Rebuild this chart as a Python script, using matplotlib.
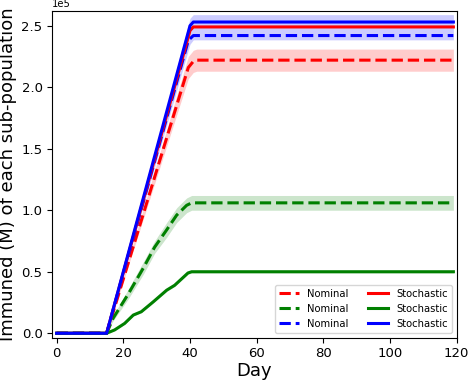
import matplotlib
matplotlib.use("Agg")
import matplotlib.pyplot as plt
import numpy as np

# Red sub-population
red_nom_days = [0, 15, 39.5, 41, 42, 119]
red_nom_vals = [0, 0, 2.16e5, 2.21e5, 2.22e5, 2.22e5]
red_band_days = [0, 15, 39.5, 41, 42, 119]
red_band_low = [0, 0, 2.07e5, 2.12e5, 2.13e5, 2.13e5]
red_band_high = [0, 0, 2.25e5, 2.30e5, 2.31e5, 2.31e5]
red_sto_days = [0, 15, 40, 41, 119]
red_sto_vals = [0, 0, 2.46e5, 2.49e5, 2.49e5]

# Green sub-population
green_nom_days = [0, 15, 16.9, 21.5, 26, 29.4, 33, 36, 39, 40.5, 119]
green_nom_vals = [0, 0, 0.12e5, 0.32e5, 0.53e5, 0.70e5, 0.84e5, 0.96e5, 1.04e5, 1.06e5, 1.06e5]
green_nom_band = [0, 0, 0.02e5, 0.04e5, 0.05e5, 0.05e5, 0.06e5, 0.06e5, 0.06e5, 0.06e5, 0.06e5]
green_sto_days = [0, 15, 17.4, 20.4, 23, 25.4, 29, 33, 35.4, 39.4, 40.5, 119]
green_sto_vals = [0, 0, 0.027e5, 0.08e5, 0.148e5, 0.175e5, 0.256e5, 0.35e5, 0.39e5, 0.49e5, 0.50e5, 0.50e5]
green_sto_band = [0, 0, 0.005e5, 0.007e5, 0.008e5, 0.008e5, 0.01e5, 0.01e5, 0.01e5, 0.01e5, 0.01e5, 0.01e5]

# Blue sub-population
blue_nom_days = [0, 15, 39.5, 41, 119]
blue_nom_vals = [0, 0, 2.38e5, 2.42e5, 2.42e5]
blue_sto_days = [0, 15, 40, 41, 119]
blue_sto_vals = [0, 0, 2.50e5, 2.53e5, 2.53e5]
blue_band_days = [0, 15, 40, 41, 119]
blue_band_low = [0, 0, 2.35e5, 2.385e5, 2.385e5]
blue_band_high = [0, 0, 2.56e5, 2.59e5, 2.59e5]

x_ticks = [0, 20, 40, 60, 80, 100, 120]

fig = plt.figure(figsize=(4.69, 3.81), dpi=100)
ax = fig.add_axes([0.1115, 0.1137, 0.8623, 0.8566])

lw = 2.2
# bands
ax.fill_between(red_band_days, red_band_low, red_band_high, color="red", alpha=0.2, linewidth=0)
gn = np.array(green_nom_vals); gnb = np.array(green_nom_band)
ax.fill_between(green_nom_days, gn - gnb, gn + gnb, color="green", alpha=0.2, linewidth=0)
gs = np.array(green_sto_vals); gsb = np.array(green_sto_band)
ax.fill_between(green_sto_days, gs - gsb, gs + gsb, color="green", alpha=0.2, linewidth=0)
ax.fill_between(blue_band_days, blue_band_low, blue_band_high, color="blue", alpha=0.2, linewidth=0)

h1, = ax.plot(red_nom_days, red_nom_vals, "--", color="red", lw=lw, label="Nominal")
h2, = ax.plot(green_nom_days, green_nom_vals, "--", color="green", lw=lw, label="Nominal")
h3, = ax.plot(blue_nom_days, blue_nom_vals, "--", color="blue", lw=lw, label="Nominal")
h4, = ax.plot(red_sto_days, red_sto_vals, "-", color="red", lw=lw, label="Stochastic")
h5, = ax.plot(green_sto_days, green_sto_vals, "-", color="green", lw=lw, label="Stochastic")
h6, = ax.plot(blue_sto_days, blue_sto_vals, "-", color="blue", lw=lw, label="Stochastic")

ax.set_xlim(-1.3, 120)
ax.set_ylim(-3600, 261700)
ax.set_xticks(x_ticks)
ax.ticklabel_format(axis="y", style="sci", scilimits=(5, 5))
ax.yaxis.get_offset_text().set_fontsize(7.2)
ax.tick_params(labelsize=9.5)
ax.set_xlabel("Day", fontsize=13, labelpad=1)
ax.set_ylabel("Immuned (M) of each sub-population", fontsize=13, labelpad=3)

ax.legend(handles=[h1, h2, h3, h4, h5, h6], ncol=2, loc="lower right", fontsize=7.2)

fig.savefig("out.png", dpi=100)
